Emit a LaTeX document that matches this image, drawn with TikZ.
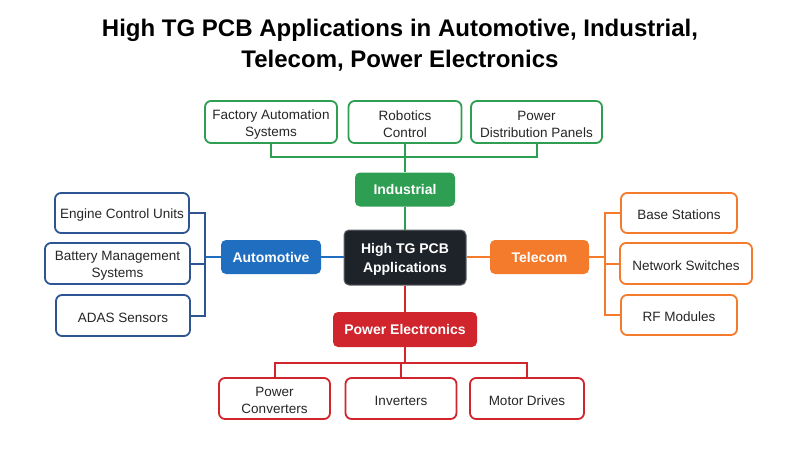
\documentclass[tikz,border=0pt]{standalone}
\usepackage{fontspec}
\setmainfont{Liberation Sans}
\usepackage{tikz}

\definecolor{indgreen}{HTML}{2E9E52}
\definecolor{autoblue}{HTML}{1F6EC0}
\definecolor{autoedge}{HTML}{2C5592}
\definecolor{telorange}{HTML}{F47A2C}
\definecolor{pered}{HTML}{D0252D}
\definecolor{hubblack}{HTML}{1E2229}

\begin{document}
\begin{tikzpicture}[x=1pt, y=-1pt,
    leaf/.style={draw, line width=1.8pt, rounded corners=6pt, fill=white, align=center,
      font=\fontsize{13.5}{17}\selectfont, text=black!85, inner sep=0pt,
      execute at begin node={\rule{0pt}{14pt}}},
    twoline/.style={execute at begin node={\rule{0pt}{31pt}}},
    cat/.style={rounded corners=5pt, text=white, align=center, inner sep=0pt,
      font=\fontsize{14}{19}\selectfont\bfseries, minimum height=34pt},
    link/.style={line width=2pt}]
   \useasboundingbox (0,0) rectangle (800,450);

   \node[font=\fontsize{24}{31}\selectfont\bfseries, align=center] (title) at (400,45)
     {High TG PCB Applications in Automotive, Industrial,\\Telecom, Power Electronics};

   \node[cat, fill=hubblack, minimum width=122pt, minimum height=55pt, draw=hubblack!70, line width=1pt,
     execute at begin node={\rule{0pt}{33.5pt}}] (hub) at (405,257.5) {High TG PCB\\Applications};

   \node[cat, fill=indgreen, minimum width=100pt] (ind) at (405,189.5) {Industrial};
   \node[cat, fill=autoblue, minimum width=100pt] (auto) at (271,257) {Automotive};
   \node[cat, fill=telorange, minimum width=99pt] (tel) at (539.5,257) {Telecom};
   \node[cat, fill=pered, minimum width=144pt, minimum height=35pt] (pe) at (405,329.5) {Power Electronics};

   \node[leaf, twoline, draw=indgreen, minimum width=132pt, minimum height=42pt] (fas) at (271,122) {Factory Automation\\Systems};
   \node[leaf, twoline, draw=indgreen, minimum width=113pt, minimum height=42pt] (rob) at (405,122) {Robotics\\Control};
   \node[leaf, twoline, draw=indgreen, minimum width=131pt, minimum height=42pt] (pdp) at (536.5,122) {Power\\Distribution Panels};

   \node[leaf, draw=autoedge, minimum width=134pt, minimum height=40pt] (ecu) at (122,213) {Engine Control Units};
   \node[leaf, twoline, draw=autoedge, minimum width=145pt, minimum height=41pt] (bms) at (117.5,263.5) {Battery Management\\Systems};
   \node[leaf, draw=autoedge, minimum width=134pt, minimum height=41pt] (adas) at (123,315.5) {ADAS Sensors};

   \node[leaf, draw=telorange, minimum width=116pt, minimum height=40pt] (bs) at (679,213) {Base Stations};
   \node[leaf, draw=telorange, minimum width=132pt, minimum height=41pt] (ns) at (686,263.5) {Network Switches};
   \node[leaf, draw=telorange, minimum width=116pt, minimum height=40pt] (rf) at (679,315) {RF Modules};

   \node[leaf, twoline, draw=pered, minimum width=111pt, minimum height=41pt] (pc) at (274.5,398.5) {Power\\Converters};
   \node[leaf, draw=pered, minimum width=111pt, minimum height=41pt] (inv) at (401,398.5) {Inverters};
   \node[leaf, draw=pered, minimum width=114pt, minimum height=41pt] (md) at (527,398.5) {Motor Drives};

   \coordinate (indbar) at (405,157);
   \coordinate (autobar) at (205,257);
   \coordinate (telbar) at (605,257);
   \coordinate (pebar) at (405,363);

   \draw[link, indgreen] (ind.south) -- (hub.north);
   \draw[link, indgreen] (rob.south) -- (ind.north);
   \draw[link, indgreen] (fas.south) |- (indbar) -| (pdp.south);

   \draw[link, autoblue] (auto.east) -- (auto.east -| hub.west);
   \draw[link, autoblue] (autobar) -- (auto.west);
   \draw[link, autoedge] (ecu.east) -| (autobar) |- (adas.east);
   \draw[link, autoedge] (bms.east) -- (bms.east -| autobar);

   \draw[link, telorange] (tel.west -| hub.east) -- (tel.west);
   \draw[link, telorange] (tel.east) -- (telbar);
   \draw[link, telorange] (bs.west) -| (telbar) |- (rf.west);
   \draw[link, telorange] (ns.west) -- (ns.west -| telbar);

   \draw[link, pered] (hub.south) -- (pe.north);
   \draw[link, pered] (pe.south) -- (pebar);
   \draw[link, pered] (pc.north) |- (pebar) -| (md.north);
   \draw[link, pered] (inv.north) -- (inv.north |- pebar);
  \end{tikzpicture}
\end{document}
